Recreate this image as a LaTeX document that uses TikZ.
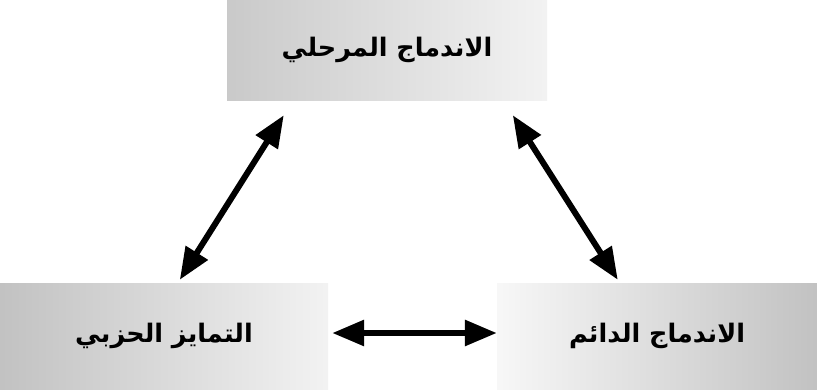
\documentclass[tikz,border=0pt]{standalone}
\usepackage{fontspec}
\newfontfamily\arabicfont[Script=Arabic]{DejaVu Sans}
\TeXXeTstate=1
\usetikzlibrary{arrows.meta,calc}
\begin{document}
\begin{tikzpicture}[x=1pt,y=-1pt,
  box/.style={inner sep=0pt, font=\arabicfont\bfseries\fontsize{25.5}{30}\selectfont},
  link/.style={line width=6pt, {Triangle[length=32pt,width=25pt]}-{Triangle[length=32pt,width=25pt]}}]
\useasboundingbox (0,0) rectangle (817,389);
\node[box, minimum width=320pt, minimum height=100pt, left color=gray!42, right color=gray!10] (top) at (387,50) {\beginR الاندماج المرحلي\endR};
\node[box, minimum width=328pt, minimum height=106pt, left color=gray!48, right color=gray!10] (l) at (164,336) {\beginR التمايز الحزبي\endR};
\node[box, minimum width=320pt, minimum height=106pt, left color=gray!6, right color=gray!48] (r) at (657,336) {\beginR الاندماج الدائم\endR};
\coordinate (a1) at ($(top.south west)+(57,15)$);
\coordinate (a2) at ($(l.north west)+(180,-3)$);
\coordinate (b1) at ($(top.south west)+(286,15)$);
\coordinate (b2) at ($(r.north west)+(121,-3)$);
\coordinate (c1) at ($(l.east)+(4,-3)$);
\coordinate (c2) at ($(r.west)+(0,-3)$);
\draw[link] (a1) -- (a2);
\draw[link] (b1) -- (b2);
\draw[link] (c1) -- (c2);
\end{tikzpicture}
\end{document}
